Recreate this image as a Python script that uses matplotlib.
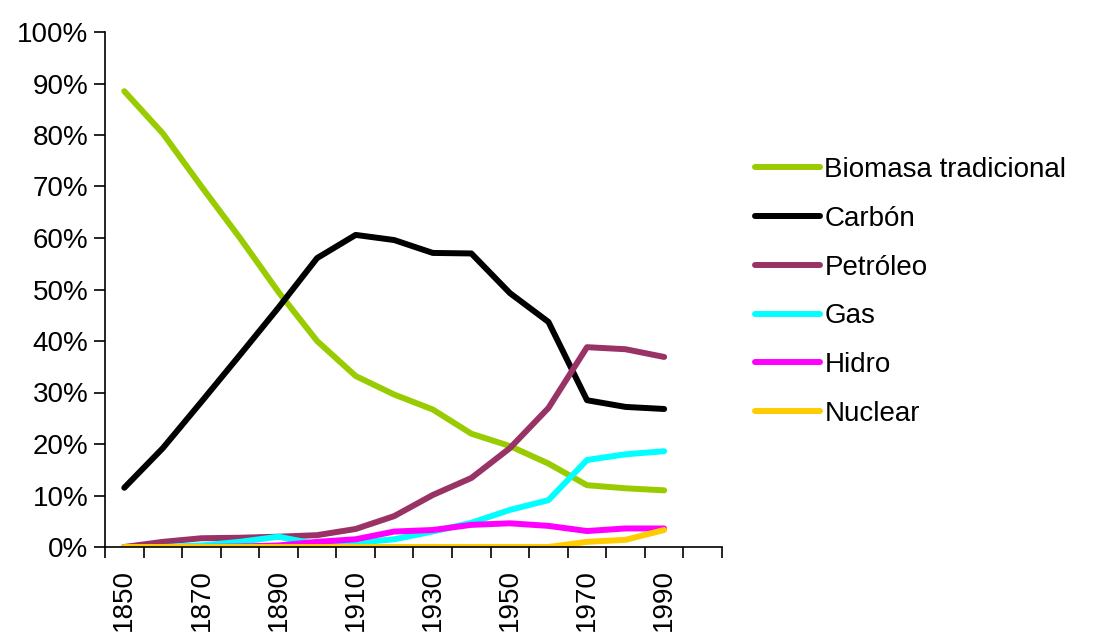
# energy mix share 1850-1990

import numpy as np
import matplotlib.pyplot as plt

plt.rcParams['font.family'] = ['Liberation Sans', 'DejaVu Sans']

years = [1850, 1860, 1870, 1880, 1890, 1900, 1910, 1920, 1930, 1940,
         1950, 1960, 1970, 1980, 1990]
categories = years + [2000]

biomasa = [88.5, 80.3, 70.0, 60.0, 49.5, 40.0, 33.2, 29.6, 26.7, 22.0,
           19.6, 16.2, 12.0, 11.4, 11.0]
carbon = [11.5, 19.2, 28.2, 37.3, 46.5, 56.1, 60.6, 59.6, 57.1, 57.0,
          49.3, 43.7, 28.5, 27.2, 26.8]
petroleo = [0.0, 1.0, 1.7, 1.8, 2.0, 2.3, 3.5, 6.0, 10.1, 13.4,
            19.2, 27.0, 38.8, 38.4, 36.9]
gas = [0.0, 0.0, 0.3, 1.0, 2.0, 0.5, 0.8, 1.5, 3.0, 4.7,
       7.2, 9.1, 16.9, 18.0, 18.6]
hidro = [0.0, 0.0, 0.0, 0.1, 0.3, 1.0, 1.5, 3.0, 3.3, 4.3,
         4.6, 4.1, 3.1, 3.6, 3.6]
nuclear = [0.0, 0.0, 0.0, 0.0, 0.0, 0.0, 0.0, 0.0, 0.0, 0.0,
           0.0, 0.0, 1.0, 1.4, 3.3]

series = [biomasa, carbon, petroleo, gas, hidro, nuclear]
labels = ['Biomasa tradicional', 'Carbón', 'Petróleo', 'Gas', 'Hidro', 'Nuclear']
colors = ['#99CC00', '#000000', '#993366', '#00FFFF', '#FF00FF', '#FFCC00']

fig = plt.figure(figsize=(10.93, 6.33), dpi=100)
ax = fig.add_axes([105 / 1093, 1 - 547 / 633, (722 - 105) / 1093, (547 - 32) / 633])

x = np.arange(len(years))
for vals, lab, col in zip(series, labels, colors):
    ax.plot(x, np.array(vals) / 100, color=col, lw=4.3, label=lab,
            solid_capstyle='round', solid_joinstyle='round')

ax.set_xlim(-0.5, len(categories) - 0.5)
ax.set_ylim(0, 1)
ax.set_yticks(np.arange(0, 1.01, 0.1))
ax.set_yticklabels([f'{int(round(v * 100))}%' for v in np.arange(0, 1.01, 0.1)])

ax.set_xticks(np.arange(-0.5, len(categories)), minor=True)
ax.set_xticks(np.arange(0, len(categories), 2))
ax.set_xticklabels([str(c) for c in categories[::2]], rotation=90)
ax.tick_params(axis='x', which='major', length=0, pad=16, labelsize=20)
ax.tick_params(axis='x', which='minor', length=8, width=1.2, direction='out')
ax.tick_params(axis='y', length=8, width=1.2, labelsize=20, pad=4)

for s in ['top', 'right']:
    ax.spines[s].set_visible(False)
for s in ['left', 'bottom']:
    ax.spines[s].set_linewidth(1.2)

fig.legend(loc='upper left', bbox_to_anchor=(755 / 1093, 1 - 157 / 633),
           frameon=False, fontsize=20, handlelength=2.35, handletextpad=0.15,
           labelspacing=0.82, borderpad=0, borderaxespad=0)

fig.savefig('out.png', dpi=100)
